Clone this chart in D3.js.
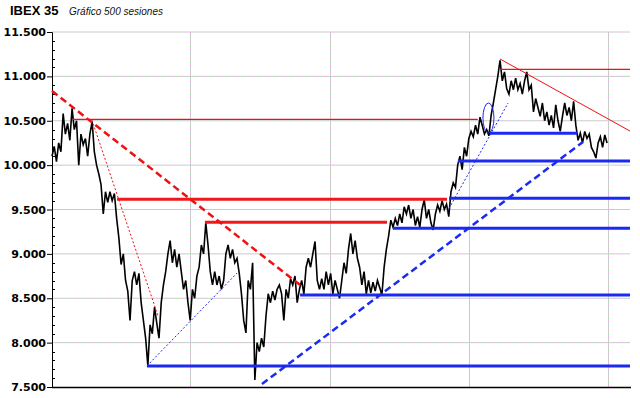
<!DOCTYPE html>
<html>
<head>
<meta charset="utf-8">
<script src="https://cdn.jsdelivr.net/npm/d3@7"></script>
<style>
  body { margin: 0; background: #fff; }
  svg { display: block; }
</style>
</head>
<body>
<div id="chart"></div>
<script>
// closes, one value every 2 sessions (500 sessions -> 250 points)
const closes = [
  10100, 10210, 10040, 10250, 10150, 10580, 10350, 10470, 10280, 10640,
  10400, 10500, 10000, 10350, 10230, 10300, 10100, 10350, 10490, 10150,
  10000, 9900, 9780, 9450, 9700, 9580, 9700, 9600, 9680, 9400,
  9180, 8880, 9000, 8700, 8580, 8250, 8700, 8800, 8650, 8780,
  8450, 8250, 8050, 7740, 8200, 8100, 8400, 8220, 8050, 8450,
  8650, 8800, 9000, 9150, 8900, 9050, 8850, 9000, 8800, 8600,
  8700, 8450, 8250, 8600, 8500, 8750, 8850, 9100, 9000, 9350,
  9100, 8800, 8650, 8800, 8650, 8750, 8600, 8700, 9000, 9100,
  8950, 9050, 8900, 8950, 8780, 8550, 8250, 8110, 8700, 8600,
  8900, 7580, 8000, 7900, 8050, 7950, 8300, 8550, 8450, 8580,
  8480, 8600, 8650, 8550, 8250, 8600, 8500, 8720, 8650, 8750,
  8450, 8600, 8700, 8550, 8850, 8950, 8850, 9000, 9140, 8700,
  8600, 8720, 8600, 8800, 8650, 8780, 8550, 8700, 8600, 8500,
  8700, 8900, 8780, 9050, 9230, 9000, 9150, 8950, 8850, 8650,
  8800, 8550, 8700, 8560, 8680, 8580, 8700, 8620, 8540, 8850,
  9050, 9200, 9380, 9300, 9400, 9320, 9450, 9350, 9530, 9450,
  9550, 9400, 9500, 9320, 9420, 9300, 9500, 9610, 9400, 9500,
  9350, 9270, 9450, 9550, 9480, 9600, 9500, 9560, 9420, 9700,
  9800, 9750, 10000, 10100, 9950, 10200, 10100, 10300, 10380, 10320,
  10450, 10350, 10540, 10450, 10350, 10400, 10330, 10560, 10700, 10850,
  11000, 11180, 10950, 11050, 10860, 10800, 10950, 10850, 10980, 10850,
  10920, 10800, 10950, 11050, 10850, 10900, 10600, 10750, 10650, 10550,
  10700, 10500, 10600, 10450, 10560, 10420, 10680, 10500, 10380, 10550,
  10700, 10560, 10650, 10500, 10720, 10450, 10280, 10360, 10250, 10380,
  10300, 10350, 10200, 10150, 10080, 10250, 10320, 10200, 10340, 10250
];

const yTicks = [7500, 8000, 8500, 9000, 9500, 10000, 10500, 11000, 11500];
const gridX = [62, 124.5, 187, 249.5];   // vertical grid, in the same 2-session units

// horizontal levels: [from, to, value]
const supportLevels = [
  [42.6, 259.3, 7737], [111.3, 259.3, 8537], [153, 259.3, 9288],
  [178.1, 259.3, 9626], [182.1, 259.3, 10046], [196.5, 235.5, 10359]
];
const resistanceLevels = [[29.2, 177.2, 9615], [68.6, 150.3, 9356]];
const thinLevels = [[9, 191, 10516], [201, 259.3, 11080]];

// trend lines: [[x0, v0], [x1, v1]]
const redDashedTrend = [[0, 10835], [111.3, 8649]];
const redDottedTrend = [[17.9, 10508], [47.6, 8300]];
const redThinTrend = [[201, 11196], [259.3, 10384]];
const blueDashedTrend = [[94.2, 7534], [238.2, 10261]];
const blueDottedTrends = [
  [[42.6, 7737], [83, 8784]],
  [[177.2, 9472], [204.6, 10700]]
];
const blueLoop = [195.8, 10531, 2.47, 169]; // center x, center value, half width, half height

let width = 640, height = 398;
let margin = {top: 32, right: 10, bottom: 11, left: 52};

let svg = d3.select("#chart")
    .append("svg")
    .attr("width", width)
    .attr("height", height);

let x = d3.scaleLinear()
    .domain([0, 259.3])
    .range([margin.left, width - margin.right]);

let y = d3.scaleLinear()
    .domain([7500, 11500])
    .range([height - margin.bottom, margin.top]);

// title
svg.append("text")
    .attr("x", 10).attr("y", 15)
    .attr("font-family", "Liberation Sans, Arial, sans-serif")
    .attr("font-weight", "bold")
    .attr("font-size", "13px")
    .text("IBEX 35");
svg.append("text")
    .attr("x", 69).attr("y", 15)
    .attr("font-family", "Liberation Sans, Arial, sans-serif")
    .attr("font-style", "italic")
    .attr("font-size", "10px")
    .attr("fill", "#111")
    .text("Gráfico 500 sesiones");

// grid
let grid = svg.append("g");
[["#e2b8e2", 0], ["#b8d8b8", 4]].forEach(function(g) {
    grid.selectAll(null)
        .data(yTicks.slice(1))
        .enter().append("line")
        .attr("x1", margin.left).attr("x2", width - margin.right)
        .attr("y1", d => y(d)).attr("y2", d => y(d))
        .attr("stroke", g[0])
        .attr("stroke-dasharray", "4,4")
        .attr("stroke-dashoffset", g[1]);
    grid.selectAll(null)
        .data(gridX)
        .enter().append("line")
        .attr("x1", d => Math.round(x(d)) + 0.5).attr("x2", d => Math.round(x(d)) + 0.5)
        .attr("y1", margin.top).attr("y2", height - margin.bottom)
        .attr("stroke", g[0])
        .attr("stroke-dasharray", "4,4")
        .attr("stroke-dashoffset", g[1]);
});

// y axis with minor ticks
let yAxis = svg.append("g")
    .attr("transform", "translate(" + margin.left + ",0)")
    .call(d3.axisLeft(y).tickValues(yTicks).tickSize(5).tickPadding(1)
        .tickFormat(d => d3.format(",")(d).replace(",", ".")));
yAxis.select(".domain").attr("stroke", "#000");
yAxis.selectAll("text")
    .attr("font-family", "DejaVu Sans, Verdana, sans-serif")
    .attr("font-weight", "bold")
    .attr("font-size", "11px")
    .attr("fill", "#000");
svg.append("g")
    .selectAll("line")
    .data(d3.range(7600, 11500, 100).filter(d => d % 500 != 0))
    .enter().append("line")
    .attr("x1", margin.left).attr("x2", margin.left + 3)
    .attr("y1", d => Math.round(y(d)) + 0.5).attr("y2", d => Math.round(y(d)) + 0.5)
    .attr("stroke", "#000");

// x axis line
svg.append("line")
    .attr("x1", margin.left).attr("x2", width - margin.right + 1)
    .attr("y1", height - margin.bottom + 0.5).attr("y2", height - margin.bottom + 0.5)
    .attr("stroke", "#000").attr("stroke-width", 1.5);

// price
let line = d3.line()
    .x((d, i) => x(i))
    .y(d => y(d));
svg.append("path")
    .datum(closes)
    .attr("fill", "none")
    .attr("stroke", "#000")
    .attr("stroke-width", 1.6)
    .attr("stroke-linejoin", "miter")
    .attr("d", line);

function seg(pts, color, w, dash) {
    svg.append("line")
        .attr("x1", x(pts[0][0])).attr("y1", y(pts[0][1]))
        .attr("x2", x(pts[1][0])).attr("y2", y(pts[1][1]))
        .attr("stroke", color)
        .attr("stroke-width", w)
        .attr("stroke-dasharray", dash);
}

thinLevels.forEach(d => seg([[d[0], d[2]], [d[1], d[2]]], "#ee1111", 1.2, null));
resistanceLevels.forEach(d => seg([[d[0], d[2]], [d[1], d[2]]], "#f01818", 3, null));
supportLevels.forEach(d => seg([[d[0], d[2]], [d[1], d[2]]], "#1a2af0", 3, null));

seg(redDashedTrend, "#ee1111", 2.5, "7,4");
seg(redDottedTrend, "#ee1111", 1, "2,2");
seg(redThinTrend, "#ee1111", 1, null);
seg(blueDashedTrend, "#1a2af0", 2.5, "7,4");
blueDottedTrends.forEach(d => seg(d, "#1a2af0", 1, "2,2"));

svg.append("ellipse")
    .attr("cx", x(blueLoop[0]))
    .attr("cy", y(blueLoop[1]))
    .attr("rx", x(blueLoop[0] + blueLoop[2]) - x(blueLoop[0]))
    .attr("ry", y(blueLoop[1] - blueLoop[3]) - y(blueLoop[1]))
    .attr("fill", "none")
    .attr("stroke", "#1a2af0")
    .attr("stroke-width", 1);
</script>
</body>
</html>
